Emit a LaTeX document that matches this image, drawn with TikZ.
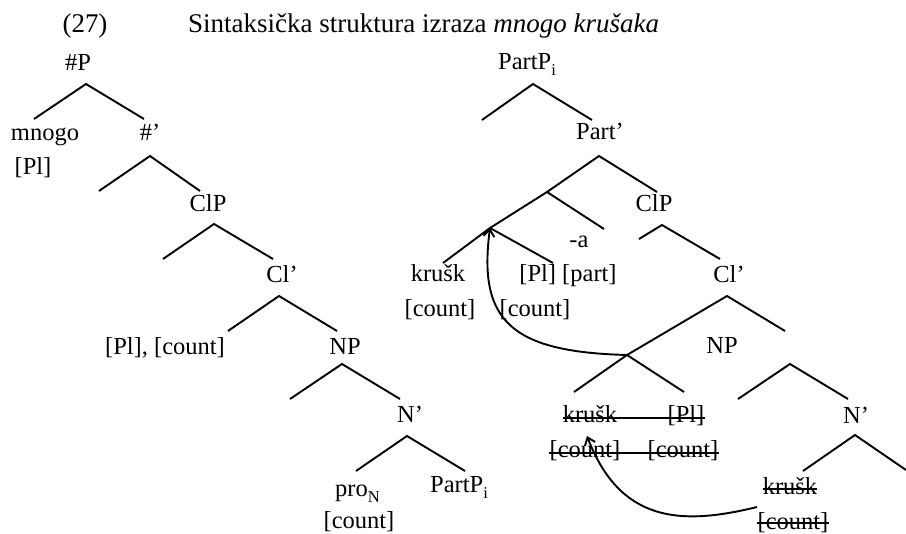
\documentclass[tikz,border=0pt]{standalone}
\usepackage{fontspec}
\setmainfont{Liberation Serif}
\usetikzlibrary{arrows.meta,calc}
% lowered subscript for index letters (PartP_i, pro_N)
\newcommand\lowsub[1]{\raisebox{-6pt}{\fontsize{16.5}{16.5}\selectfont #1}}
\begin{document}
\begin{tikzpicture}[x=1pt,y=-1pt,
  lbl/.style={inner sep=0pt, anchor=base},
  branch/.style={line width=1.9pt},
  strike/.style={line width=1.1pt},
  move/.style={line width=1.9pt, -{Straight Barb[length=7pt,width=11pt]}},
  font=\fontsize{24.5}{29}\selectfont]
\useasboundingbox (0,0) rectangle (906,534);

% heading
\node[lbl, font=\fontsize{27}{32}\selectfont] (num) at (85,33) {(27)};
\node[lbl, anchor=base west, font=\fontsize{27}{32}\selectfont] (title) at (188,33) {Sintaksička struktura izraza \textit{mnogo krušaka}};

% ---------------- left tree: #P ----------------
\node[lbl] (hP) at (78,71) {\#P};
\node[lbl] (mnogo) at (45,141) {mnogo};
\node[lbl] (mnogoPl) at (33,175) {[Pl]};
\node[lbl] (hbar) at (150,141) {\#’};
\node[lbl] (ClPa) at (208,212) {ClP};
\node[lbl] (Clbara) at (282,283) {Cl’};
\node[lbl] (feats) at (165,355) {[Pl], [count]};
\node[lbl] (NPa) at (345,355) {NP};
\node[lbl] (Nbara) at (410,423) {N’};
\node[lbl, anchor=base west] (pro) at (335,497) {pro\lowsub{N}};
\node[lbl] (procount) at (359,529) {[count]};
\node[lbl, anchor=base west] (PartPlow) at (430,493) {PartP\lowsub{i}};

\coordinate (a1) at (86,84);   \coordinate (a1l) at (34,119);  \coordinate (a1r) at (144,119);
\coordinate (a2) at (150,156); \coordinate (a2l) at (99,191);  \coordinate (a2r) at (200,191);
\coordinate (a3) at (214,224); \coordinate (a3l) at (163,259); \coordinate (a3r) at (273,259);
\coordinate (a4) at (279,296); \coordinate (a4l) at (228,331); \coordinate (a4r) at (337,331);
\coordinate (a5) at (342,364); \coordinate (a5l) at (290,399); \coordinate (a5r) at (400,399);
\coordinate (a6) at (407,436); \coordinate (a6l) at (356,471); \coordinate (a6r) at (465,471);
\foreach \n in {a1,a2,a3,a4,a5,a6}
  \draw[branch] (\n l) -- (\n) -- (\n r);

% ---------------- right tree: PartP_i ----------------
\node[lbl, anchor=base west] (PartP) at (498,70) {PartP\lowsub{i}};
\node[lbl] (Partbar) at (600,140) {Part’};
\node[lbl] (suffix) at (579,248) {-a};
\node[lbl] (ClPb) at (654,212) {ClP};
\node[lbl] (krusk) at (438,282) {krušk};
\node[lbl] (kruskcount) at (440,317) {[count]};
\node[lbl] (plpart) at (568,282) {[Pl] [part]};
\node[lbl] (plcount) at (535,317) {[count]};
\node[lbl] (Clbarb) at (729,283) {Cl’};
\node[lbl] (NPb) at (722,354) {NP};
\node[lbl] (Nbarb) at (856,424) {N’};
% deleted copies
\node[lbl] (dk) at (590,423) {krušk};
\node[lbl] (dpl) at (686,423) {[Pl]};
\node[lbl] (dc1) at (585,458) {[count]};
\node[lbl] (dc2) at (683,458) {[count]};
\node[lbl] (bk) at (790,495) {krušk};
\node[lbl] (bc) at (793,530) {[count]};

\coordinate (b1) at (533,84);  \coordinate (b1l) at (482,120); \coordinate (b1r) at (592,120);
\coordinate (b2) at (599,156); \coordinate (b2l) at (547,192); \coordinate (b2r) at (657,192);
\coordinate (b3) at (547,192); \coordinate (b3l) at (490,228); \coordinate (b3r) at (604,229);
\coordinate (b4) at (490,228); \coordinate (b4l) at (443,263); \coordinate (b4r) at (553,263);
\coordinate (b5) at (662,225); \coordinate (b5l) at (639,239); \coordinate (b5r) at (720,259);
\coordinate (b6) at (727,296); \coordinate (b6l) at (627,355); \coordinate (b6r) at (785,331);
\coordinate (b7) at (627,355); \coordinate (b7l) at (574,392); \coordinate (b7r) at (684,392);
\coordinate (b8) at (790,364); \coordinate (b8l) at (738,399); \coordinate (b8r) at (848,399);
\coordinate (b9) at (855,435); \coordinate (b9l) at (803,471); \coordinate (b9r) at (906,470);
\foreach \n in {b1,b2,b3,b4,b5,b6,b7,b8,b9}
  \draw[branch] (\n l) -- (\n) -- (\n r);

% strike-through of deleted copies
\draw[strike] ($(dk.base west)+(0,-5)$) -- ($(dpl.base east)+(0,-5)$);
\draw[strike] ($(dc1.base west)+(0,-5)$) -- ($(dc2.base east)+(0,-5)$);
\draw[strike] ($(bk.base west)+(0,-6)$) -- ($(bk.base east)+(0,-6)$);
\draw[strike] ($(bc.base west)+(0,-7)$) -- ($(bc.base east)+(0,-7)$);

% movement arrows
\coordinate (src) at (757,507);
\coordinate (dst) at (587,436);
\draw[move] (b7) .. controls (510,352) and (478,320) .. (b4);
\draw[move] (src) .. controls (680,526) and (620,522) .. (dst);
\end{tikzpicture}
\end{document}
